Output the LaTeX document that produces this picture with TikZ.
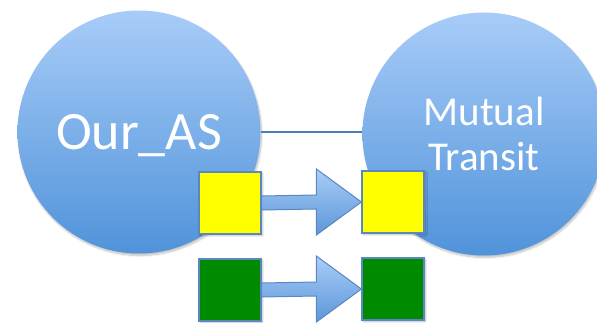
\documentclass[tikz,border=0pt]{standalone}
\usepackage{fontspec}
\setmainfont{Carlito}
\usetikzlibrary{shadows.blur,calc}
\definecolor{cirtop}{HTML}{A8CCF8}
\definecolor{cirbot}{HTML}{5093DA}
\definecolor{arrtop}{HTML}{A9CDF8}
\definecolor{arrbot}{HTML}{5C96D9}
\definecolor{edgeblue}{HTML}{5B87C0}
\definecolor{linkblue}{HTML}{4A7DB8}
\definecolor{sqyellow}{HTML}{FFFF00}
\definecolor{sqgreen}{HTML}{008A00}
\begin{document}
\begin{tikzpicture}[x=1pt,y=-1pt,
  asnode/.style={circle, minimum size=243pt, inner sep=0pt, shading=axis,
    top color=cirtop, bottom color=cirbot, text=white, align=center,
    blur shadow={shadow xshift=1pt, shadow yshift=-2pt, shadow opacity=25, shadow blur steps=6}},
  sqbox/.style={rectangle, minimum size=62pt, inner sep=0pt, draw=edgeblue, line width=1.2pt,
    blur shadow={shadow xshift=1.5pt, shadow yshift=-1.5pt, shadow opacity=30, shadow blur steps=4}},
  blockarrow/.style={draw=edgeblue, line width=1pt, shading=axis, top color=arrtop, bottom color=arrbot},
  linkline/.style={draw=linkblue, line width=1.2pt}]
\useasboundingbox (0,0) rectangle (597,323);
\clip (0,0) rectangle (597,323);
% circles
\node[asnode, text depth=0pt, font=\fontsize{54}{58}\selectfont] (our) at (139,132) {Our\_AS};
\node[asnode, font=\fontsize{41}{45}\selectfont] (mt) at (484,134) {Mutual\\Transit};
% link
\draw[linkline] (our.east) -- (our.east -| mt.west);
% squares
\node[sqbox, fill=sqyellow] (ya) at (230,203) {};
\node[sqbox, fill=sqyellow] (yb) at (393,202) {};
\node[sqbox, fill=sqgreen] (ga) at (230,290) {};
\node[sqbox, fill=sqgreen] (gb) at (393,289) {};
% block arrows
\foreach \a/\b in {ya/yb, ga/gb}{
  \path[blockarrow]
    ($(\a.east)+(0,-7)$) -- ($(\b.west)+(-45,-7)$) -- ($(\b.west)+(-45,-33)$)
    -- (\b.west) -- ($(\b.west)+(-45,33)$) -- ($(\b.west)+(-45,7)$)
    -- ($(\a.east)+(0,7)$) -- cycle;
}
\end{tikzpicture}
\end{document}
